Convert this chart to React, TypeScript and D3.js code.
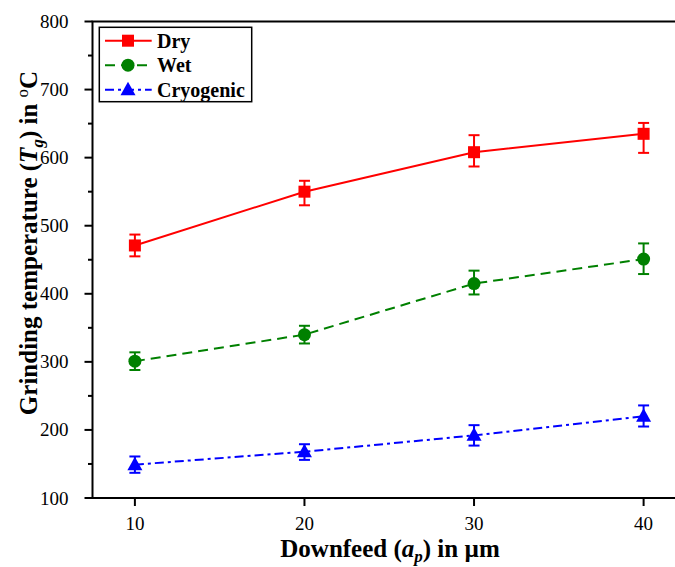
import React from "react";
import { scaleLinear, line, range } from "d3";

// downfeed (um)
const downfeed = [10, 20, 30, 40];

// grinding temperature, deg C
const dry = [471, 550, 608, 635];
const dryErrUp = [16, 16, 25, 16];
const dryErrDown = [16, 20, 21, 28];

const wet = [301, 340, 415, 451];
const wetErrUp = [13, 13, 19, 23];
const wetErrDown = [13, 13, 16, 22];

const cryo = [149, 168, 192, 220];
const cryoErrUp = [12, 11, 15, 16];
const cryoErrDown = [12, 12, 15, 15];

const yTicks = [100, 200, 300, 400, 500, 600, 700, 800];
const yMinor = [150, 250, 350, 450, 550, 650, 750];

const W = 675;
const H = 567;
const plot = { left: 92.5, right: 686, top: 21.5, bottom: 498 };

const font = "Liberation Serif, Tinos, Times New Roman, DejaVu Serif";

type Series = {
	name: string;
	values: number[];
	up: number[];
	down: number[];
	color: string;
	dash: string;
	marker: "square" | "circle" | "triangle";
};

const series: Series[] = [
	{ name: "Dry", values: dry, up: dryErrUp, down: dryErrDown, color: "#ff0000", dash: "none", marker: "square" },
	{ name: "Wet", values: wet, up: wetErrUp, down: wetErrDown, color: "#008000", dash: "10,6", marker: "circle" },
	{ name: "Cryogenic", values: cryo, up: cryoErrUp, down: cryoErrDown, color: "#0000ff", dash: "9,4,3,4", marker: "triangle" }
];

function Marker({ type, x, y, color }: { type: string; x: number; y: number; color: string }) {
	if (type === "square") return <rect x={x - 6} y={y - 6} width={12} height={12} fill={color} />;
	if (type === "circle") return <circle cx={x} cy={y} r={6.5} fill={color} />;
	return <path d={`M${x},${y - 8} L${x + 7.5},${y + 5.5} L${x - 7.5},${y + 5.5} Z`} fill={color} />;
}

export default function App() {
	const xScale = scaleLinear().domain([7.5, 42.5]).range([plot.left, plot.right]);
	const yScale = scaleLinear().domain([100, 800]).range([plot.bottom, plot.top]);

	const lineGen = line<number>()
		.x((_, i) => xScale(downfeed[i]))
		.y(d => yScale(d));

	//legend rows
	const legendY = range(series.length).map(i => 40.7 + i * 24.5);

	return (
		<svg width={W} height={H} style={{ position: "absolute", left: 0, top: 0, background: "#fff" }}>
			{/* series lines */}
			{series.map(s => (
				<path key={s.name} d={lineGen(s.values) || ""} fill="none" stroke={s.color} strokeWidth={2} strokeDasharray={s.dash} />
			))}
			{/* error bars + markers */}
			{series.map(s =>
				s.values.map((v, i) => {
					const cx = xScale(downfeed[i]);
					const y1 = yScale(v + s.up[i]);
					const y2 = yScale(v - s.down[i]);
					return (
						<g key={s.name + i} stroke={s.color} strokeWidth={2}>
							<line x1={cx} x2={cx} y1={y1} y2={y2} />
							<line x1={cx - 5.5} x2={cx + 5.5} y1={y1} y2={y1} />
							<line x1={cx - 5.5} x2={cx + 5.5} y1={y2} y2={y2} />
							<g stroke="none">
								<Marker type={s.marker} x={cx} y={yScale(v)} color={s.color} />
							</g>
						</g>
					);
				})
			)}

			{/* frame */}
			<rect x={plot.left} y={plot.top} width={plot.right - plot.left} height={plot.bottom - plot.top} fill="none" stroke="#000" strokeWidth={2} />

			{/* y axis ticks */}
			{yTicks.map(t => (
				<g key={t}>
					<line x1={plot.left - 8} x2={plot.left} y1={yScale(t)} y2={yScale(t)} stroke="#000" strokeWidth={2} />
					<text x={plot.left - 24} y={yScale(t)} textAnchor="end" dominantBaseline="central" fontSize={19} fontFamily={font}>
						{t}
					</text>
				</g>
			))}
			{yMinor.map(t => (
				<line key={t} x1={plot.left - 4.5} x2={plot.left} y1={yScale(t)} y2={yScale(t)} stroke="#000" strokeWidth={2} />
			))}

			{/* x axis ticks */}
			{downfeed.map(t => (
				<g key={t}>
					<line x1={xScale(t)} x2={xScale(t)} y1={plot.bottom} y2={plot.bottom + 8} stroke="#000" strokeWidth={2} />
					<text x={xScale(t)} y={plot.bottom + 32} textAnchor="middle" fontSize={19} fontFamily={font}>
						{t}
					</text>
				</g>
			))}

			{/* axis titles */}
			<text x={390} y={557} textAnchor="middle" fontSize={25} fontWeight="bold" fontFamily={font}>
				Downfeed (<tspan fontStyle="italic">a</tspan>
				<tspan fontStyle="italic" fontSize={17} dy={5}>p</tspan>
				<tspan dy={-5}>) in µm</tspan>
			</text>
			<text transform="translate(37,243) rotate(-90)" textAnchor="middle" fontSize={25} fontWeight="bold" fontFamily={font}>
				Grinding temperature (<tspan fontStyle="italic">T</tspan>
				<tspan fontStyle="italic" fontSize={17} dy={6}>g</tspan>
				<tspan dy={-6}>) in </tspan>
				<tspan fontSize={17} fontWeight="normal" dy={-9}>o</tspan>
				<tspan dy={9}>C</tspan>
			</text>

			{/* legend */}
			<rect x={99.3} y={27.3} width={152.4} height={74.4} fill="#fff" stroke="#000" strokeWidth={1.5} />
			{series.map((s, i) => (
				<g key={s.name}>
					<line x1={105} x2={151.7} y1={legendY[i]} y2={legendY[i]} stroke={s.color} strokeWidth={2} strokeDasharray={s.dash} />
					<Marker type={s.marker} x={128} y={legendY[i]} color={s.color} />
					<text x={157} y={legendY[i]} dominantBaseline="central" fontSize={20} fontWeight="bold" fontFamily={font}>
						{s.name}
					</text>
				</g>
			))}
		</svg>
	);
}
